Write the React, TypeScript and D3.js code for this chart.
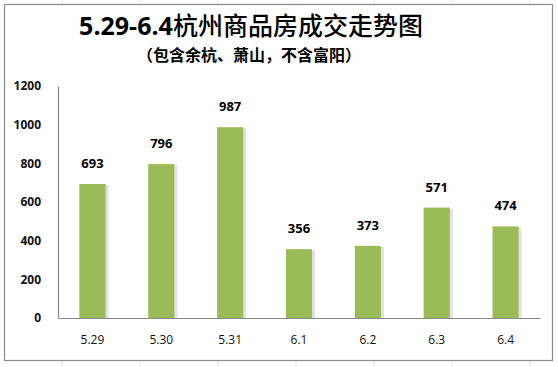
import * as d3 from "d3";
import { useEffect, useRef } from "react";

const categories = ["5.29", "5.30", "5.31", "6.1", "6.2", "6.3", "6.4"];
const values = [693, 796, 987, 356, 373, 571, 474];
const yTicks = [0, 200, 400, 600, 800, 1000, 1200];
const titleNum = "5.29-6.4";
const titleText = "杭州商品房成交走势图";
const subtitle = "（包含余杭、萧山，不含富阳）";

export default function App() {
  const svgRef = useRef<SVGSVGElement | null>(null);

  useEffect(() => {
    if (!svgRef.current) return;
    const svg = d3.select(svgRef.current);
    svg.selectAll("*").remove();

    const width = 558;
    const height = 367;
    const font = "'Open Sans', 'Noto Sans CJK SC', sans-serif";

    svg.attr("width", width).attr("height", height);

    svg.append("rect").attr("width", width).attr("height", height).attr("fill", "#fff");

    // faint sheet gridlines outside the chart box
    [62, 140, 218, 296, 374, 452, 530].forEach((x) => {
      svg.append("line").attr("x1", x).attr("x2", x).attr("y1", 0).attr("y2", 4)
        .attr("stroke", "#dde").attr("stroke-width", 1);
      svg.append("line").attr("x1", x).attr("x2", x).attr("y1", 361).attr("y2", 367)
        .attr("stroke", "#dde").attr("stroke-width", 1);
    });

    // chart frame
    svg.append("rect")
      .attr("x", 4.5).attr("y", 4.5)
      .attr("width", 548).attr("height", 356)
      .attr("fill", "#fff")
      .attr("stroke", "#8c8c8c")
      .attr("stroke-width", 1.2);

    const margin = { left: 58, right: 540, top: 86, bottom: 318 };

    const x = d3.scaleBand()
      .domain(categories)
      .range([margin.left, margin.right])
      .paddingInner(0.62)
      .paddingOuter(0.31);

    const y = d3.scaleLinear()
      .domain([0, 1200])
      .range([margin.bottom, margin.top]);

    // title
    const title = svg.append("text")
      .attr("x", 251).attr("y", 35)
      .attr("text-anchor", "middle")
      .attr("font-family", font)
      .attr("font-size", 25)
      .attr("fill", "#000");
    title.append("tspan").attr("font-weight", "bold").text(titleNum);
    title.append("tspan").attr("font-weight", 500).attr("font-family", "'Noto Sans CJK SC', sans-serif").text(titleText);

    svg.append("text")
      .attr("x", 249).attr("y", 61)
      .attr("text-anchor", "middle")
      .attr("font-family", "'Noto Sans CJK SC', sans-serif")
      .attr("font-size", 16)
      .attr("font-weight", "bold")
      .attr("fill", "#000")
      .text(subtitle);

    // shadows
    svg.append("g").selectAll("rect")
      .data(values)
      .enter()
      .append("rect")
      .attr("x", (_, i) => x(categories[i])! + 2)
      .attr("y", (d) => y(d) + 1)
      .attr("width", x.bandwidth() + 1)
      .attr("height", (d) => margin.bottom - y(d) - 1)
      .attr("fill", "#e2e2e2");

    // bars
    svg.append("g").selectAll("rect")
      .data(values)
      .enter()
      .append("rect")
      .attr("x", (_, i) => x(categories[i])!)
      .attr("y", (d) => y(d))
      .attr("width", x.bandwidth())
      .attr("height", (d) => margin.bottom - y(d))
      .attr("fill", "#9bbb59");

    // value labels
    svg.append("g").selectAll("text")
      .data(values)
      .enter()
      .append("text")
      .attr("x", (_, i) => x(categories[i])! + x.bandwidth() / 2)
      .attr("y", (d) => y(d) - 16)
      .attr("text-anchor", "middle")
      .attr("font-family", font)
      .attr("font-size", 13)
      .attr("font-weight", "bold")
      .attr("fill", "#000")
      .text((d) => d);

    // y axis
    const yAxis = svg.append("g")
      .attr("transform", `translate(${margin.left},0)`)
      .call(d3.axisLeft(y).tickValues(yTicks).tickFormat(d3.format("d")).tickSize(0).tickPadding(17));
    yAxis.select(".domain").attr("stroke", "#888").attr("stroke-width", 1.2);
    yAxis.selectAll("text")
      .attr("font-family", font)
      .attr("font-size", 12)
      .attr("font-weight", "bold")
      .attr("fill", "#111");

    // x axis
    const xAxis = svg.append("g")
      .attr("transform", `translate(0,${margin.bottom})`)
      .call(d3.axisBottom(x).tickSize(0).tickPadding(17));
    xAxis.select(".domain").attr("stroke", "#888").attr("stroke-width", 1.2);
    xAxis.selectAll("text")
      .attr("font-family", font)
      .attr("font-size", 12)
      .attr("fill", "#111");
  }, []);

  return (
    <svg ref={svgRef} style={{ position: "absolute", left: 0, top: 0, display: "block" }}></svg>
  );
}
